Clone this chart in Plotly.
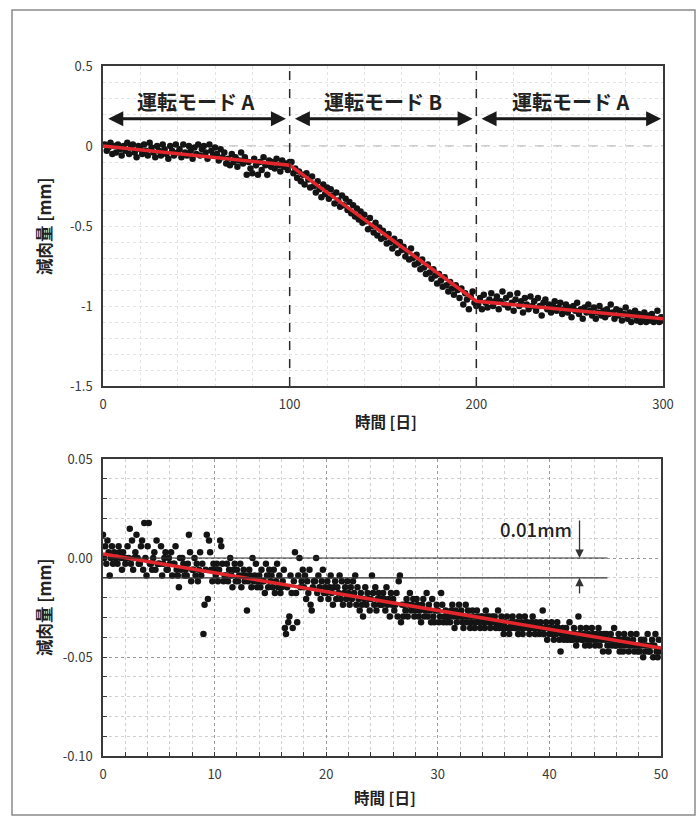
import numpy as np
import plotly.graph_objects as go

W, H = 699, 820

# ---------------- data: top chart (daily wall-thinning, mm) ----------------
top_days = list(range(1, 301))
top_mode_a1 = [
    0.01, -0.03, -0.01, 0.02, -0.05, 0.00, -0.04, 0.01, -0.02, -0.06,
    0.00, -0.03, 0.02, -0.05, -0.01, 0.01, -0.04, -0.07, 0.00, -0.02,
    -0.05, 0.01, -0.03, -0.06, 0.02, -0.01, -0.04, -0.07, 0.00, -0.03,
    -0.06, 0.01, -0.02, -0.05, -0.08, 0.00, -0.03, -0.06, 0.01, -0.04,
    -0.02, -0.07, 0.01, -0.04, -0.06, 0.00, -0.03, -0.08, -0.01, -0.05,
    0.01, -0.06, -0.02, 0.00, -0.04, -0.08, 0.01, -0.03, -0.06, -0.01,
    -0.05, -0.09, -0.02, -0.07, -0.04, -0.11, -0.08, -0.12, -0.05, -0.10,
    -0.07, -0.13, -0.09, -0.04, -0.11, -0.07, -0.18, -0.10, -0.14, -0.17,
    -0.08, -0.12, -0.18, -0.10, -0.15, -0.07, -0.12, -0.18, -0.09, -0.13,
    -0.10, -0.14, -0.08, -0.12, -0.16, -0.09, -0.13, -0.11, -0.15, -0.10,
]
top_mode_b = [
    -0.10, -0.17, -0.14, -0.20, -0.16, -0.22, -0.18, -0.24, -0.17, -0.21,
    -0.26, -0.19, -0.25, -0.29, -0.22, -0.27, -0.32, -0.24, -0.30, -0.26,
    -0.33, -0.27, -0.31, -0.36, -0.29, -0.34, -0.38, -0.31, -0.37, -0.33,
    -0.40, -0.35, -0.42, -0.37, -0.44, -0.39, -0.46, -0.41, -0.48, -0.43,
    -0.47, -0.52, -0.45, -0.50, -0.54, -0.48, -0.56, -0.51, -0.58, -0.53,
    -0.57, -0.61, -0.55, -0.60, -0.64, -0.58, -0.62, -0.67, -0.60, -0.65,
    -0.63, -0.69, -0.66, -0.71, -0.64, -0.70, -0.74, -0.68, -0.73, -0.77,
    -0.71, -0.76, -0.80, -0.74, -0.79, -0.83, -0.77, -0.81, -0.86, -0.80,
    -0.84, -0.88, -0.82, -0.87, -0.91, -0.85, -0.89, -0.93, -0.87, -0.90,
    -0.95, -0.89, -0.99, -0.92, -0.96, -1.02, -0.94, -0.91, -0.98, -1.00,
]
top_mode_a2 = [
    -0.99, -0.95, -1.02, -0.93, -0.98, -1.01, -0.96, -0.92, -1.00, -0.97,
    -0.94, -1.02, -0.97, -0.91, -0.99, -0.95, -1.01, -0.93, -0.98, -1.03,
    -0.96, -0.92, -1.00, -0.97, -1.04, -0.95, -0.99, -1.02, -0.94, -1.00,
    -0.97, -1.03, -0.95, -1.00, -1.06, -0.98, -0.96, -1.02, -0.99, -1.04,
    -1.00, -0.97, -1.03, -1.01, -0.98, -1.05, -1.02, -0.99, -1.04, -1.01,
    -1.07, -1.00, -1.03, -0.98, -1.05, -1.02, -1.08, -1.01, -1.04, -0.99,
    -1.03, -1.06, -1.01, -1.08, -1.04, -1.00, -1.06, -1.03, -1.07, -1.02,
    -1.05, -0.99, -1.04, -1.08, -1.02, -1.06, -1.03, -1.09, -1.05, -1.01,
    -1.08, -1.04, -1.10, -1.06, -1.03, -1.09, -1.05, -1.10, -1.07, -1.04,
    -1.10, -1.06, -1.09, -1.05, -1.10, -1.08, -1.03, -1.10, -1.07, -1.09,
]
top_loss = top_mode_a1 + top_mode_b + top_mode_a2
top_fit_days = [0, 100, 200, 300]
top_fit_mm = [0.0, -0.12, -0.97, -1.08]

mode_labels = ["運転モード A", "運転モード B", "運転モード A"]
mode_ranges = [(2, 98), (102, 198), (202, 299)]

top_x_ticks = [0, 100, 200, 300]
top_x_text = ["0", "100", "200", "300"]
top_y_ticks = [0.5, 0, -0.5, -1, -1.5]
top_y_text = ["0.5", "0", "-0.5", "-1", "-1.5"]

# ---------------- data: bottom chart (readings, in 2.95 µm resolution steps) ----------------
STEP_MM = 0.00295
bottom_days = [round(i * 0.1, 1) for i in range(500)]
bottom_counts = [
    4, 0, 2, -1, 3, 1, -3, 0, 2, -1,
    1, 0, 0, -1, 2, 1, 0, -2, 1, 0,
    -1, 0, 2, 0, 5, -1, 3, -2, 0, 1,
    4, 0, -1, -1, 2, 3, -2, 6, 0, -3,
    2, 6, -1, -1, -2, 0, 1, -2, 3, -1,
    -1, -1, 2, -3, -1, 0, 1, -2, -2, 0,
    -1, 1, -3, -1, -1, 2, -2, -3, -5, 0,
    -2, 0, -1, -3, -2, -3, -1, 4, 1, -4,
    -2, -2, 0, -3, -1, -4, -2, 1, -3, -1,
    -13, -8, -2, 4, -7, 3, 1, -2, -4, -1,
    -2, -3, -1, -4, -2, 3, 2, -1, -4, -3,
    -3, -1, -4, -2, 0, -3, -5, -2, -1, -4,
    -2, -4, -3, -1, -5, -3, -2, -4, -3, -9,
    -4, -2, -3, -5, 0, -4, -3, -1, -5, -4,
    -3, -5, -2, -4, -4, -6, -1, -3, -5, -2,
    -4, -3, -5, -2, -6, -4, -1, -5, -3, -6,
    -5, -4, -2, -12, -13, -5, -11, -10, -3, -6,
    -12, -4, 1, -6, -11, -3, 0, -5, -4, -2,
    -5, -3, -7, -4, -6, -2, -8, -9, -5, -4,
    -4, 0, -6, -3, -5, -7, -4, -2, -6, -5,
    -6, -4, -7, -5, -3, -6, -8, -5, -4, -7,
    -5, -6, -3, -7, -4, -8, -6, -5, -7, -4,
    -6, -8, -5, -7, -4, -6, -3, -8, -5, -7,
    -9, -6, -8, -10, -7, -5, -8, -6, -7, -9,
    -7, -3, -6, -8, -5, -9, -7, -6, -8, -7,
    -8, -6, -7, -9, -5, -8, -7, -10, -6, -8,
    -7, -9, -8, -6, -10, -4, -3, -11, -8, -10,
    -8, -9, -7, -10, -8, -6, -9, -8, -7, -10,
    -9, -7, -8, -10, -9, -11, -8, -7, -10, -9,
    -6, -10, -8, -9, -11, -7, -10, -11, -9, -8,
    -9, -11, -10, -6, -8, -11, -10, -9, -11, -10,
    -10, -11, -9, -8, -10, -12, -9, -11, -10, -8,
    -10, -9, -11, -12, -10, -8, -11, -9, -10, -12,
    -11, -9, -10, -12, -11, -9, -10, -11, -12, -10,
    -10, -11, -12, -9, -10, -11, -10, -12, -11, -10,
    -11, -10, -12, -11, -9, -12, -11, -10, -12, -13,
    -11, -12, -10, -12, -13, -11, -12, -10, -11, -12,
    -12, -11, -13, -10, -12, -11, -13, -12, -10, -11,
    -11, -12, -13, -12, -11, -10, -12, -13, -11, -12,
    -12, -13, -11, -12, -9, -13, -12, -11, -14, -12,
    -13, -12, -11, -13, -14, -12, -13, -11, -12, -14,
    -16, -13, -12, -14, -13, -12, -14, -13, -11, -14,
    -13, -14, -12, -13, -15, -14, -10, -13, -12, -14,
    -14, -13, -15, -12, -14, -13, -15, -14, -12, -13,
    -14, -15, -13, -14, -12, -15, -13, -14, -16, -13,
    -14, -13, -15, -16, -14, -13, -15, -14, -12, -15,
    -15, -14, -13, -16, -15, -14, -16, -13, -15, -14,
    -14, -16, -15, -13, -15, -14, -16, -15, -13, -16,
    -15, -16, -14, -15, -17, -14, -16, -15, -13, -16,
    -16, -15, -14, -17, -15, -13, -16, -17, -14, -16,
]
bottom_loss = [c * STEP_MM for c in bottom_counts]
bottom_fit_days = [0, 50]
bottom_fit_mm = [0.002, -0.0455]

bottom_x_ticks = [0, 10, 20, 30, 40, 50]
bottom_x_text = ["0", "10", "20", "30", "40", "50"]
bottom_y_ticks = [0.05, 0.0, -0.05, -0.10]
bottom_y_text = ["0.05", "0.00", "-0.05", "-0.10"]

ref_band = [0.0, -0.01]
band_label = "0.01mm"

x_title = "時間 [日]"
y_title = "減肉量 [mm]"

# ---------------- styling ----------------
FONT = "Noto Sans CJK JP"
DOT = "#141414"
RED = "#e3262b"
FRAME = "#3a3a3a"


def px(x):
    return x / W


def py(y):
    return 1 - y / H


fig = go.Figure()
fig.add_trace(go.Scatter(x=top_days, y=top_loss, mode="markers",
                         marker=dict(color=DOT, size=6.5), xaxis="x", yaxis="y",
                         showlegend=False, hoverinfo="skip"))
fig.add_trace(go.Scatter(x=top_fit_days, y=top_fit_mm, mode="lines",
                         line=dict(color=RED, width=3.5), xaxis="x", yaxis="y",
                         showlegend=False))
fig.add_trace(go.Scatter(x=bottom_days, y=bottom_loss, mode="markers",
                         marker=dict(color=DOT, size=6.5), xaxis="x2", yaxis="y2",
                         showlegend=False, hoverinfo="skip"))
fig.add_trace(go.Scatter(x=bottom_fit_days, y=bottom_fit_mm, mode="lines",
                         line=dict(color=RED, width=3.5), xaxis="x2", yaxis="y2",
                         showlegend=False))

tickfont = dict(family=FONT, size=13, color="#3a3a3a")
frame = dict(showline=True, linecolor=FRAME, linewidth=1.5, mirror=True,
             zeroline=False, automargin=False, tickfont=tickfont,
             ticklabelstandoff=6)

fig.update_layout(
    width=W, height=H,
    margin=dict(l=0, r=0, t=0, b=0),
    paper_bgcolor="white", plot_bgcolor="white",
    font=dict(family=FONT),
    xaxis=dict(domain=[px(103), px(663)], anchor="y", range=[0, 300],
               tickmode="array", tickvals=top_x_ticks, ticktext=top_x_text,
               showgrid=True, gridcolor="#e2e2e2", griddash="dot", gridwidth=1,
               minor=dict(tick0=0, dtick=20, showgrid=True, gridcolor="#e2e2e2",
                          griddash="dot", gridwidth=1),
               **frame),
    yaxis=dict(domain=[py(386), py(66)], anchor="x", range=[-1.5, 0.5],
               tickmode="array", tickvals=top_y_ticks, ticktext=top_y_text,
               showgrid=True, gridcolor="#e2e2e2", griddash="dot", gridwidth=1,
               minor=dict(tick0=0, dtick=0.1, showgrid=True, gridcolor="#e2e2e2",
                          griddash="dot", gridwidth=1),
               **frame),
    xaxis2=dict(domain=[px(103), px(661)], anchor="y2", range=[0, 50],
                tickmode="array", tickvals=bottom_x_ticks, ticktext=bottom_x_text,
                showgrid=True, gridcolor="#9a9a9a", griddash="dot", gridwidth=1,
                ticks="inside", ticklen=4, tickcolor=FRAME,
                minor=dict(tick0=0, dtick=2, showgrid=True, gridcolor="#cfcfcf",
                           griddash="dot", gridwidth=1, ticks="inside",
                           ticklen=4, tickcolor=FRAME),
                **frame),
    yaxis2=dict(domain=[py(756), py(459)], anchor="x2", range=[-0.10, 0.05],
                tickmode="array", tickvals=bottom_y_ticks, ticktext=bottom_y_text,
                showgrid=True, gridcolor="#9a9a9a", griddash="dot", gridwidth=1,
                ticks="inside", ticklen=4, tickcolor=FRAME,
                minor=dict(tick0=0, dtick=0.01, showgrid=True, gridcolor="#cfcfcf",
                           griddash="dot", gridwidth=1, ticks="inside",
                           ticklen=4, tickcolor=FRAME),
                **frame),
)

shapes = []
# outer page frame
shapes.append(dict(type="rect", xref="paper", yref="paper",
                   x0=px(12), x1=px(695), y0=py(815), y1=py(10),
                   line=dict(color="#8a8a8a", width=1.5), layer="below"))
# zero dashed line top
shapes.append(dict(type="line", xref="x", yref="y", x0=0, x1=300, y0=0, y1=0,
                   line=dict(color="#a0a0a0", width=1, dash="dash"), layer="below"))
# mode boundaries
for xb in top_fit_days[1:3]:
    shapes.append(dict(type="line", xref="x", yref="y", x0=xb, x1=xb,
                       y0=-1.5, y1=0.5, line=dict(color="#2a2a2a", width=1.5, dash="dash"),
                       layer="above"))
# reference lines in bottom chart
for yb in ref_band:
    shapes.append(dict(type="line", xref="x2", yref="y2", x0=0, x1=45.2,
                       y0=yb, y1=yb, line=dict(color="#333", width=1.2),
                       layer="above"))
fig.update_layout(shapes=shapes)

ann = []
for label, (a, b) in zip(mode_labels, mode_ranges):
    ann.append(dict(x=b, y=0.17, ax=a, ay=0.17, xref="x", yref="y",
                    axref="x", ayref="y", text="", showarrow=True,
                    arrowhead=2, arrowside="end+start", arrowsize=1,
                    arrowwidth=3, arrowcolor="#1a1a1a"))
    ann.append(dict(x=(a + b) / 2, y=0.275, xref="x", yref="y", text=label,
                    showarrow=False, xanchor="center",
                    font=dict(family=FONT, size=20, color="#222", weight="bold")))
# 0.01mm arrows
ann.append(dict(x=42.7, y=ref_band[0], ax=42.7, ay=0.0197, xref="x2", yref="y2",
                axref="x2", ayref="y2", text="", showarrow=True, arrowhead=2,
                arrowsize=1.3, arrowwidth=1.3, arrowcolor="#333"))
ann.append(dict(x=42.7, y=ref_band[1], ax=42.7, ay=-0.0187, xref="x2", yref="y2",
                axref="x2", ayref="y2", text="", showarrow=True, arrowhead=2,
                arrowsize=1.3, arrowwidth=1.3, arrowcolor="#333"))
ann.append(dict(x=42.2, y=0.0148, xref="x2", yref="y2", text=band_label,
                showarrow=False, xanchor="right",
                font=dict(family=FONT, size=18.5, color="#222", weight=500)))
# axis titles
for (cx, cy) in [(386, 421), (385, 797)]:
    ann.append(dict(x=px(cx), y=py(cy), xref="paper", yref="paper", text=x_title,
                    showarrow=False, xanchor="center", yanchor="middle",
                    font=dict(family=FONT, size=15.5, color="#222", weight="bold")))
for cy in [226, 607]:
    ann.append(dict(x=px(44), y=py(cy), xref="paper", yref="paper", text=y_title,
                    showarrow=False, textangle=-90, xanchor="center",
                    yanchor="middle",
                    font=dict(family=FONT, size=16.5, color="#222", weight="bold")))
fig.update_layout(annotations=ann)

fig.write_html("out.html", config={"displayModeBar": False},
               post_script="document.body.style.margin='0';document.body.style.overflow='hidden';")
